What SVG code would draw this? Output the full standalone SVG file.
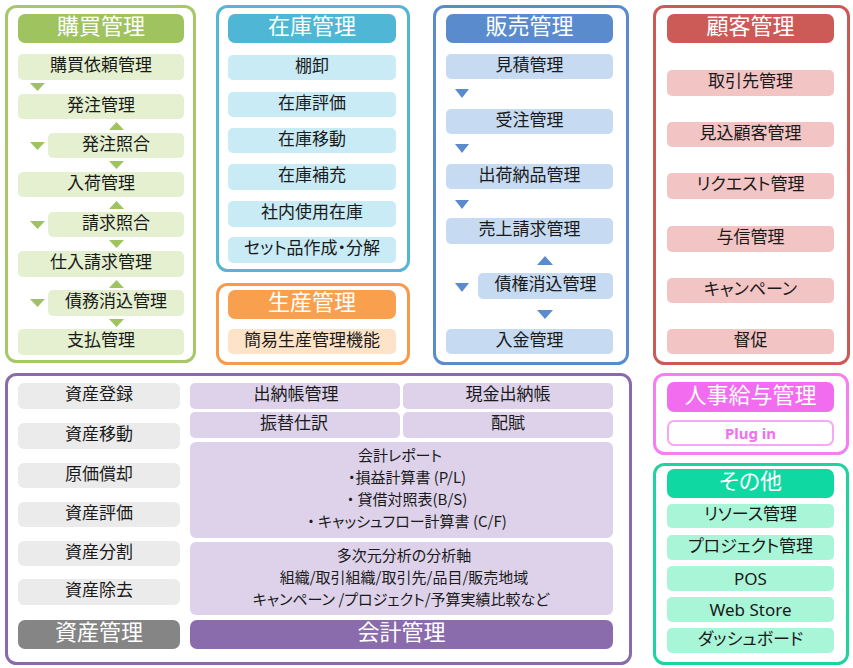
<svg xmlns="http://www.w3.org/2000/svg" width="853" height="668" viewBox="0 0 853 668">
<style>
text{font-family:"Noto Sans CJK JP","Noto Sans",sans-serif;text-anchor:middle;fill:#1a1a1a;font-size:17px;font-feature-settings:"palt"}
.h{fill:#fff;font-size:22px}
.frame{fill:#fff;stroke-width:3}
.s{font-size:15px}
.lat{font-family:"Noto Sans",sans-serif}
.g .frame{stroke:#a6c867}.g .hd{fill:#9fc45f}.g .it{fill:#e4f0cf}
.c .frame{stroke:#55b6d3}.c .hd{fill:#4fb6d5}.c .it{fill:#c8ebf5}
.o .frame{stroke:#f89a4c}.o .hd{fill:#f9a04f}.o .it{fill:#fde3c8}
.b .frame{stroke:#5a8ccb}.b .hd{fill:#5a8ccd}.b .it{fill:#c6daf1}
.r .frame{stroke:#cb5a57}.r .hd{fill:#cc5a57}.r .it{fill:#f3c4c4}
.p .frame{stroke:#8a6aab}.p .hd{fill:#8a6bab}.p .it{fill:#ddd2ea}
.a .hd{fill:#858585}.a .it{fill:#ebebeb}
.m .frame{stroke:#f57ff2}.m .hd{fill:#f26cef}
.t .frame{stroke:#1fd3a0}.t .hd{fill:#10d8a3}.t .it{fill:#a9f5d8}
.tg{fill:#9fc45f}.tb{fill:#5a8ccd}
</style>

<g id="purchase" class="g">
<rect class="frame" x="6.5" y="6.5" width="188" height="355" rx="10"/>
<rect class="hd" x="18" y="14" width="166" height="29" rx="7"/>
<text class="h" x="101" y="34">購買管理</text>
<rect class="it" x="18" y="54" width="166" height="26" rx="5"/><text x="101" y="71">購買依頼管理</text>
<rect class="it" x="18" y="94" width="166" height="25" rx="5"/><text x="101" y="110.5">発注管理</text>
<rect class="it" x="48" y="133" width="136" height="25" rx="5"/><text x="116" y="149.5">発注照合</text>
<rect class="it" x="18" y="172" width="166" height="25" rx="5"/><text x="101" y="188.5">入荷管理</text>
<rect class="it" x="48" y="212" width="136" height="25" rx="5"/><text x="116" y="228.5">請求照合</text>
<rect class="it" x="18" y="251" width="166" height="26" rx="5"/><text x="101" y="268">仕入請求管理</text>
<rect class="it" x="48" y="290" width="136" height="26" rx="5"/><text x="116" y="307">債務消込管理</text>
<rect class="it" x="18" y="329" width="166" height="26" rx="5"/><text x="101" y="346">支払管理</text>
</g>

<g id="inventory" class="c">
<rect class="frame" x="217.5" y="6.5" width="191" height="264" rx="10"/>
<rect class="hd" x="228" y="14" width="168" height="29" rx="7"/>
<text class="h" x="312" y="34">在庫管理</text>
<rect class="it" x="228" y="55" width="168" height="25" rx="5"/><text x="312" y="71.5">棚卸</text>
<rect class="it" x="228" y="92" width="168" height="25" rx="5"/><text x="312" y="108.5">在庫評価</text>
<rect class="it" x="228" y="128" width="168" height="25" rx="5"/><text x="312" y="144.5">在庫移動</text>
<rect class="it" x="228" y="164" width="168" height="26" rx="5"/><text x="312" y="181">在庫補充</text>
<rect class="it" x="228" y="201" width="168" height="26" rx="5"/><text x="312" y="218">社内使用在庫</text>
<rect class="it" x="228" y="237" width="168" height="26" rx="5"/><text x="312" y="254">セット品作成・分解</text>
</g>

<g id="production" class="o">
<rect class="frame" x="217.5" y="284.5" width="191" height="79" rx="10"/>
<rect class="hd" x="228" y="290" width="168" height="29" rx="7"/>
<text class="h" x="312" y="310">生産管理</text>
<rect class="it" x="228" y="329" width="168" height="25" rx="5"/><text x="312" y="345.5">簡易生産管理機能</text>
</g>

<g id="sales" class="b">
<rect class="frame" x="434.5" y="6.5" width="193" height="357" rx="10"/>
<rect class="hd" x="446" y="14" width="167" height="29" rx="7"/>
<text class="h" x="529.5" y="34">販売管理</text>
<rect class="it" x="446" y="54" width="167" height="25" rx="5"/><text x="529.5" y="70.5">見積管理</text>
<rect class="it" x="446" y="109" width="167" height="25" rx="5"/><text x="529.5" y="125.5">受注管理</text>
<rect class="it" x="446" y="164" width="167" height="25" rx="5"/><text x="529.5" y="180.5">出荷納品管理</text>
<rect class="it" x="446" y="218" width="167" height="26" rx="5"/><text x="529.5" y="235">売上請求管理</text>
<rect class="it" x="478" y="273" width="135" height="26" rx="5"/><text x="545.5" y="290">債権消込管理</text>
<rect class="it" x="446" y="329" width="167" height="25" rx="5"/><text x="529.5" y="345.5">入金管理</text>
</g>

<g id="customer" class="r">
<rect class="frame" x="654.5" y="6.5" width="194" height="357" rx="10"/>
<rect class="hd" x="667" y="14" width="167" height="29" rx="7"/>
<text class="h" x="750.5" y="34">顧客管理</text>
<rect class="it" x="667" y="70" width="167" height="26" rx="5"/><text x="750.5" y="87">取引先管理</text>
<rect class="it" x="667" y="122" width="167" height="25" rx="5"/><text x="750.5" y="138.5">見込顧客管理</text>
<rect class="it" x="667" y="173" width="167" height="26" rx="5"/><text x="750.5" y="190">リクエスト管理</text>
<rect class="it" x="667" y="226" width="167" height="26" rx="5"/><text x="750.5" y="243">与信管理</text>
<rect class="it" x="667" y="278" width="167" height="25" rx="5"/><text x="750.5" y="294.5">キャンペーン</text>
<rect class="it" x="667" y="329" width="167" height="25" rx="5"/><text x="750.5" y="345.5">督促</text>
</g>

<g id="accounting" class="p">
<rect class="frame" x="6.5" y="374.5" width="624" height="289" rx="10"/>
<rect class="it" x="190" y="383" width="210" height="26" rx="5"/><text x="296" y="400">出納帳管理</text>
<rect class="it" x="403" y="383" width="210" height="26" rx="5"/><text x="508" y="400">現金出納帳</text>
<rect class="it" x="190" y="412" width="210" height="26" rx="5"/><text x="294" y="429">振替仕訳</text>
<rect class="it" x="403" y="412" width="210" height="26" rx="5"/><text x="508" y="429">配賦</text>
<rect class="it" x="190" y="442" width="423" height="96" rx="6"/>
<text class="s" x="400" y="461">会計レポート</text>
<text class="s" x="407" y="483">・損益計算書 (P/L)</text>
<text class="s" x="407" y="505">・ 貸借対照表(B/S)</text>
<text class="s" x="407" y="527">・ キャッシュフロー計算書 (C/F)</text>
<rect class="it" x="190" y="542" width="423" height="73" rx="6"/>
<text class="s" x="404" y="561">多次元分析の分析軸</text>
<text class="s" x="404" y="583">組織/取引組織/取引先/品目/販売地域</text>
<text class="s" x="401" y="605">キャンペーン /プロジェクト/予算実績比較など</text>
<rect class="hd" x="190" y="620" width="423" height="29" rx="7"/>
<text class="h" x="401.5" y="640">会計管理</text>
</g>

<g id="assets" class="a">
<rect class="it" x="18" y="383" width="162" height="26" rx="6"/><text x="99" y="400">資産登録</text>
<rect class="it" x="18" y="423" width="162" height="26" rx="6"/><text x="99" y="440">資産移動</text>
<rect class="it" x="18" y="463" width="162" height="25" rx="6"/><text x="99" y="479.5">原価償却</text>
<rect class="it" x="18" y="502" width="162" height="25" rx="6"/><text x="99" y="518.5">資産評価</text>
<rect class="it" x="18" y="541" width="162" height="25" rx="6"/><text x="99" y="557.5">資産分割</text>
<rect class="it" x="18" y="579" width="162" height="26" rx="6"/><text x="99" y="596">資産除去</text>
<rect class="hd" x="18" y="620" width="162" height="29" rx="7"/>
<text class="h" x="99" y="640">資産管理</text>
</g>

<g id="hr" class="m">
<rect class="frame" x="654.5" y="374.5" width="193" height="79" rx="10"/>
<rect class="hd" x="667" y="382" width="167" height="30" rx="7"/>
<text class="h" x="750.5" y="402.5">人事給与管理</text>
<rect x="668" y="421" width="165" height="24" rx="6" fill="#fff" stroke="#f9a6f6" stroke-width="2"/>
<text class="lat" x="750.5" y="438.5" style="fill:#f36ef0;font-size:15px;font-weight:bold">Plug in</text>
</g>

<g id="other" class="t">
<rect class="frame" x="654.5" y="464.5" width="193" height="199" rx="10"/>
<rect class="hd" x="667" y="469" width="167" height="29" rx="7"/>
<text class="h" x="750.5" y="489">その他</text>
<rect class="it" x="667" y="504" width="167" height="24" rx="5"/><text x="750.5" y="520">リソース管理</text>
<rect class="it" x="667" y="535" width="167" height="25" rx="5"/><text x="750.5" y="551.5">プロジェクト管理</text>
<rect class="it" x="667" y="566" width="167" height="25" rx="5"/><text class="lat" x="750.5" y="584.5">POS</text>
<rect class="it" x="667" y="597" width="167" height="25" rx="5"/><text class="lat" x="750.5" y="615.5">Web Store</text>
<rect class="it" x="667" y="628" width="167" height="25" rx="5"/><text x="750.5" y="644.5">ダッシュボード</text>
</g>

<g id="connectors">
<polygon class="tg" points="30,83 45,83 37.5,91"/>
<polygon class="tg" points="109,130 124,130 116.5,122"/>
<polygon class="tg" points="30,142 45,142 37.5,150"/>
<polygon class="tg" points="109,161 124,161 116.5,169"/>
<polygon class="tg" points="109,209 124,209 116.5,201"/>
<polygon class="tg" points="30,221 45,221 37.5,229"/>
<polygon class="tg" points="109,240 124,240 116.5,248"/>
<polygon class="tg" points="109,288 124,288 116.5,280"/>
<polygon class="tg" points="30,299 45,299 37.5,307"/>
<polygon class="tg" points="109,319 124,319 116.5,327"/>
<polygon class="tb" points="455,89 469,89 462,98"/>
<polygon class="tb" points="455,144 469,144 462,153"/>
<polygon class="tb" points="455,200 469,200 462,209"/>
<polygon class="tb" points="537,265 553,265 545,256"/>
<polygon class="tb" points="455,283 469,283 462,292"/>
<polygon class="tb" points="537,310 553,310 545,319"/>
</g>
</svg>
